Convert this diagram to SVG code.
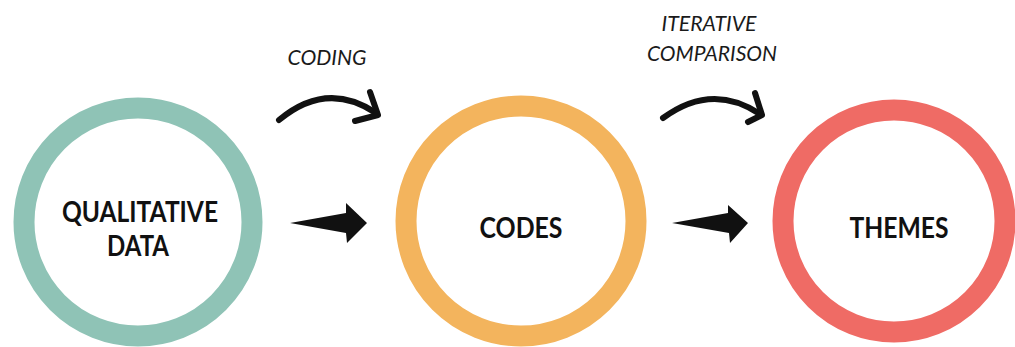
<svg xmlns="http://www.w3.org/2000/svg" width="1015" height="347" viewBox="0 0 1015 347">
  <style>
    .ring { fill: #ffffff; stroke-width: 21; }
    .title { font-family: Lato, "Noto Sans", sans-serif; font-weight: 700; font-size: 29px; fill: #111111; text-anchor: middle; }
    .step { font-family: Lato, "Noto Sans", sans-serif; font-style: italic; font-size: 21px; fill: #1a1a1a; text-anchor: middle; }
    .curve { fill: none; stroke: #111111; stroke-width: 6; stroke-linecap: round; stroke-linejoin: round; }
    .dart { fill: #111111; }
  </style>
  <rect width="1015" height="347" fill="#ffffff"/>

  <g id="qualitative-data">
    <circle class="ring" cx="138" cy="222" r="114" stroke="#8fc3b6"/>
    <text class="title" x="140" y="222" textLength="156" lengthAdjust="spacingAndGlyphs">QUALITATIVE</text>
    <text class="title" x="138" y="256" textLength="62" lengthAdjust="spacingAndGlyphs">DATA</text>
  </g>

  <g id="codes">
    <circle class="ring" cx="521" cy="221" r="115" stroke="#f3b45d"/>
    <text class="title" x="521" y="238" textLength="83" lengthAdjust="spacingAndGlyphs">CODES</text>
  </g>

  <g id="themes">
    <circle class="ring" cx="894" cy="221" r="111" stroke="#ef6b65"/>
    <text class="title" x="899" y="238" textLength="99" lengthAdjust="spacingAndGlyphs">THEMES</text>
  </g>

  <g id="connectors">
    <!-- coding step -->
    <text class="step" x="327" y="65" textLength="79" lengthAdjust="spacingAndGlyphs">CODING</text>
    <path class="curve" d="M279,120 Q327,80 376,113"/>
    <path class="curve" d="M370,92 L378,115 L355,121"/>
    <path class="dart" d="M290,223 L346,213 L346,203 L367,223 L347,243 L346,233 Z"/>

    <!-- iterative comparison step -->
    <text class="step" x="709" y="31" textLength="95" lengthAdjust="spacingAndGlyphs">ITERATIVE</text>
    <text class="step" x="712" y="61" textLength="130" lengthAdjust="spacingAndGlyphs">COMPARISON</text>
    <path class="curve" d="M663,118 Q712,82 760,114"/>
    <path class="curve" d="M755,93 L762,115 L748,122"/>
    <path class="dart" d="M672,223 L728,213 L728,205 L748,223 L730,243 L729,233 Z"/>
  </g>
</svg>
